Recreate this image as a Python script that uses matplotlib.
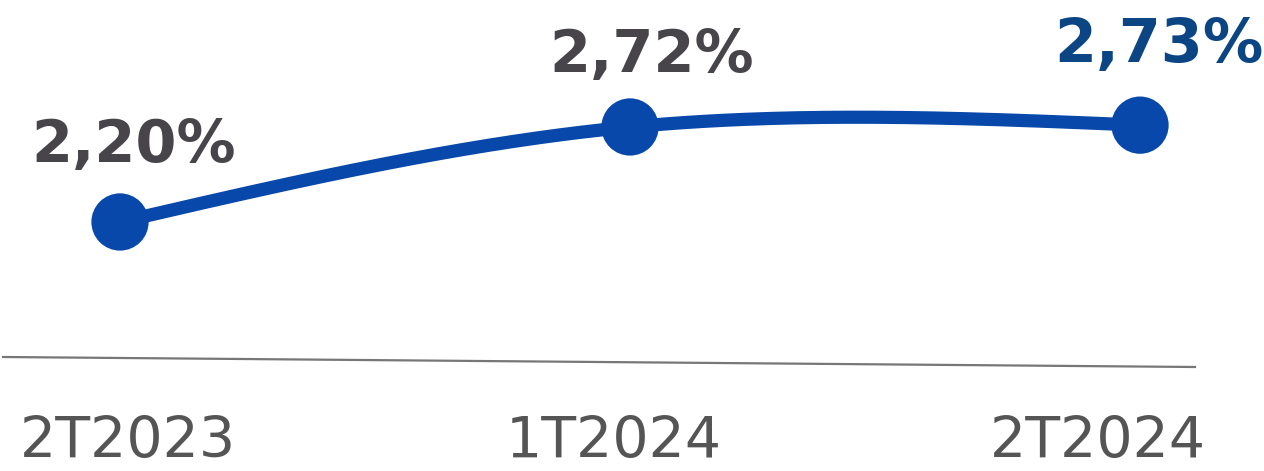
import matplotlib
matplotlib.use('Agg')
from matplotlib import pyplot as plt
from matplotlib.lines import Line2D
import numpy as np

periods = ['2T2023', '1T2024', '2T2024']
rate = [2.20, 2.72, 2.73]
rate_labels = ['2,20%', '2,72%', '2,73%']

blue = '#0748aa'
dark = '#48454a'
navy = '#0b4583'
grey = '#555555'


# smooth line through the points (natural cubic spline, like the original chart)
def natural_spline(xs, ys, n=200):
    xs = np.asarray(xs, float)
    ys = np.asarray(ys, float)
    k = len(xs)
    h = np.diff(xs)
    A = np.zeros((k, k))
    b = np.zeros(k)
    A[0, 0] = 1
    A[-1, -1] = 1
    for i in range(1, k - 1):
        A[i, i - 1] = h[i - 1]
        A[i, i] = 2 * (h[i - 1] + h[i])
        A[i, i + 1] = h[i]
        b[i] = 6 * ((ys[i + 1] - ys[i]) / h[i] - (ys[i] - ys[i - 1]) / h[i - 1])
    M = np.linalg.solve(A, b)
    xx = np.linspace(xs[0], xs[-1], n)
    yy = np.empty_like(xx)
    for j, x in enumerate(xx):
        i = min(np.searchsorted(xs, x, side='right') - 1, k - 2)
        t0 = xs[i + 1] - x
        t1 = x - xs[i]
        yy[j] = (M[i] * t0 ** 3 + M[i + 1] * t1 ** 3) / (6 * h[i]) \
            + (ys[i] / h[i] - M[i] * h[i] / 6) * t0 \
            + (ys[i + 1] / h[i] - M[i + 1] * h[i] / 6) * t1
    return xx, yy


fig = plt.figure(figsize=(12.64, 4.71), dpi=100)
ax = fig.add_axes([0, 0, 1, 1])
ax.set_xlim(-0.2353, 2.2431)
ax.set_ylim(0.837, 3.415)
ax.axis('off')

x = np.arange(len(periods))
sx, sy = natural_spline(x, rate)
ax.plot(sx, sy, color=blue, lw=9.5, solid_capstyle='round', zorder=2)
ax.scatter(x, rate, s=1700, color=blue, edgecolors='none', zorder=3)

# value labels
val_dx = [0.027, 0.043, 0.037]
val_dy = [0.33, 0.30, 0.345]
for i in range(len(rate)):
    last = i == len(rate) - 1
    ax.text(x[i] + val_dx[i], rate[i] + val_dy[i], rate_labels[i],
            ha='center', va='baseline', fontsize=43.5 if last else 42.5,
            fontweight='bold', color=navy if last else dark)

# base line
fig.add_artist(Line2D([3 / 1264, 1195 / 1264], [1 - 357 / 471, 1 - 367 / 471],
                      color='#777777', lw=1.6, transform=fig.transFigure))

# category labels
lab_dx = [0.016, -0.031, -0.082]
for i in range(len(periods)):
    fig.text(ax.transData.transform((x[i] + lab_dx[i], 0))[0] / 1264, 1 - 458 / 471,
             periods[i], ha='center', va='baseline', fontsize=41, color=grey)

fig.savefig('out.png', dpi=100)
